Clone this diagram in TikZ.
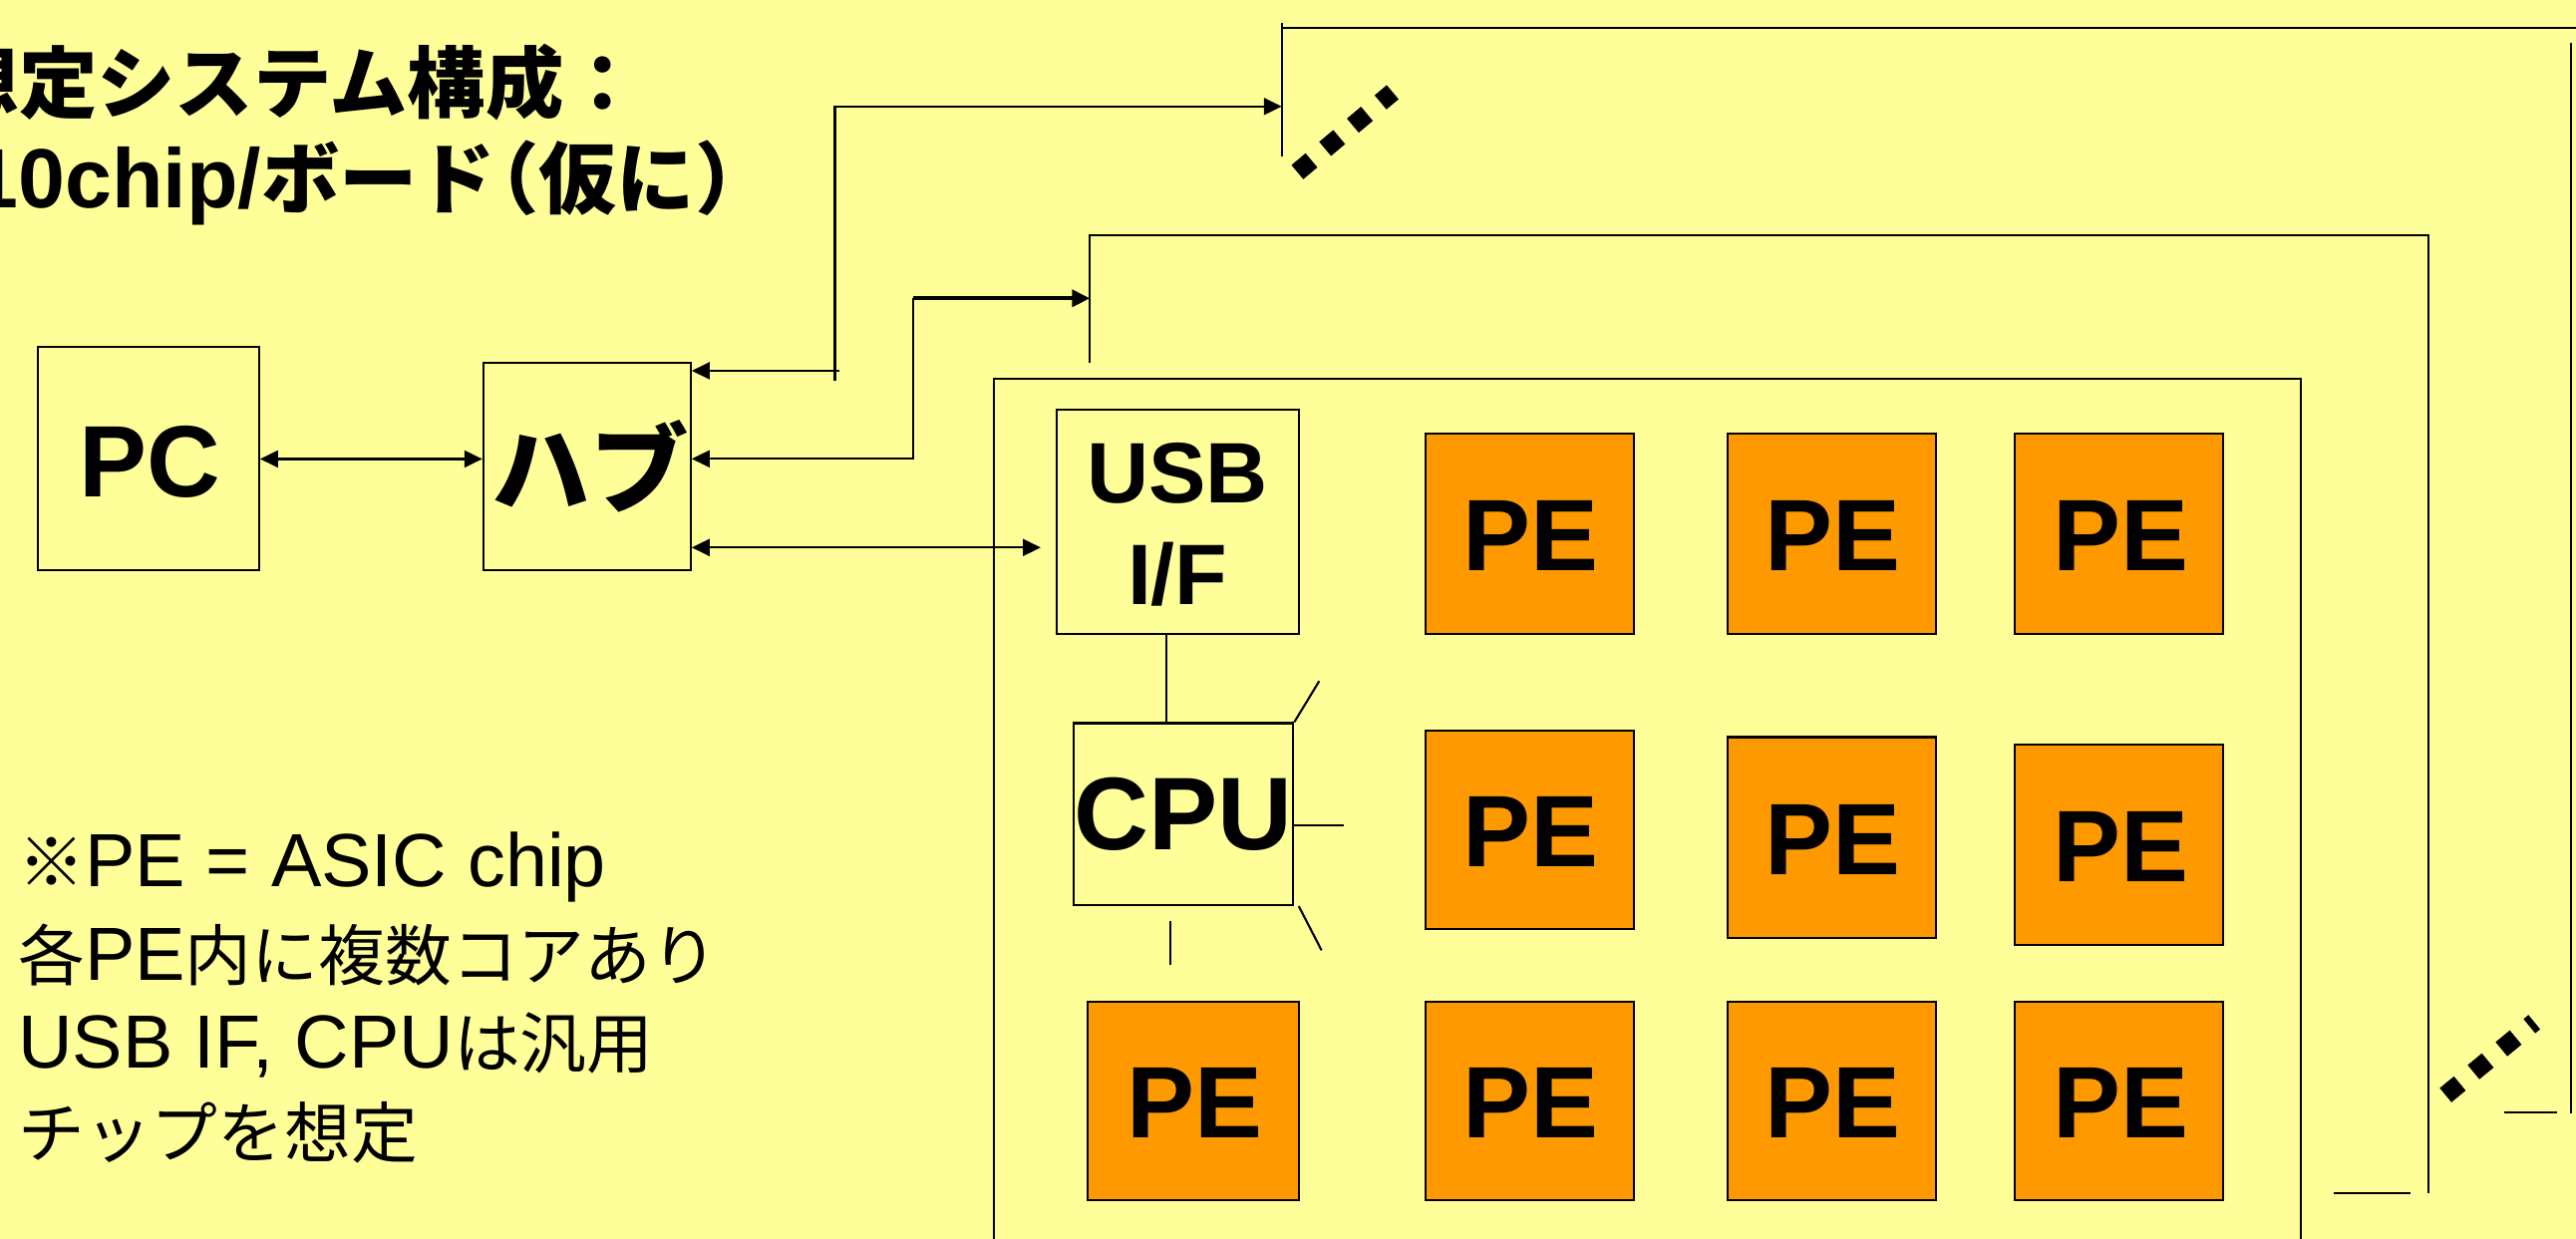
\documentclass[tikz,border=0pt]{standalone}
\usepackage{fontspec}
\setmainfont{Liberation Sans}
\newfontfamily\jp{Noto Sans CJK JP}
\usetikzlibrary{arrows.meta,fit,calc}
\definecolor{bg}{RGB}{255,255,153}
\definecolor{peor}{RGB}{255,153,0}
\newcommand\Jn[1]{{\jp\fontsize{19}{19}\selectfont #1}}
\begin{document}
\begin{tikzpicture}[x=0.01648cm,y=-0.01648cm,
  line width=0.6pt,
  box/.style={draw=black, inner sep=0pt, fill=bg, line width=0.6pt},
  pebox/.style={box, fill=peor},
  lbl/.style={inner sep=0pt, font=\bfseries\fontsize{29}{30}\selectfont},
  arr/.style={-{Triangle[length=0.18cm,width=0.17cm]}},
  darr/.style={{Triangle[length=0.18cm,width=0.17cm]}-{Triangle[length=0.18cm,width=0.17cm]}},
  dots/.style={line width=0.185cm, dash pattern=on 0.185cm off 0.178cm},
  note/.style={anchor=base west, inner sep=0pt, font=\fontsize{21.5}{21.5}\selectfont}]
\useasboundingbox (0,0) rectangle (1568,754);
\clip (0,0) rectangle (1568,754);
\fill[bg] (0,0) rectangle (1568,754);

% title
\node[anchor=base west, inner sep=0pt, font=\jp\bfseries\fontsize{22.3}{22.3}\selectfont] (t1) at (-36.6,68.5) {想定システム構成：};
\node[anchor=base west, inner sep=0pt] (t2) at (-18,126.5) {{\fontsize{24}{24}\selectfont\bfseries 10chip/}{\jp\bfseries\fontsize{22.3}{22.3}\selectfont ボード\hspace{-0.45em}（仮に）}};

% frames of further boards
\coordinate (f1) at (780.2,64.8);
\coordinate (f2) at (663.4,181.6);
\draw (780.2,13.8) -- (780.2,95);
\draw (780.2,16.8) -- (1580,16.8);
\draw (1564.7,26.3) -- (1564.7,677.6);
\draw (1524.1,677.3) -- (1556.4,677.3);
\draw (663.4,221.1) -- (663.4,143.2) -- (1478,143.2) -- (1478,726.5);
\draw (1420.3,726.1) -- (1467.1,726.1);
\draw (604.8,770) -- (604.8,230.6) -- (1400.5,230.6) -- (1400.5,770);

% ellipsis marks
\draw[dots] (789.7,104.8) -- (847.7,56.1);
\draw[dots] (1488.6,666.7) -- (1542.6,622.2);

% boxes
\node[box, fit={(22.8,211)(157.7,347)}] (pc) {};
\node[box, fit={(294.2,220.7)(420.4,347)}] (hub) {};
\node[box, fit={(643.2,249.2)(790.4,386.1)}] (usb) {};
\node[box, fit={(653.4,440.2)(787.2,551)}] (cpu) {};
\node[pebox, fit={(867.5,263.9)(994.3,386.1)}] (pe11) {};
\node[pebox, fit={(1051.4,263.9)(1178.2,386.1)}] (pe12) {};
\node[pebox, fit={(1226.5,263.9)(1353.2,386.1)}] (pe13) {};
\node[pebox, fit={(867.5,444.7)(994.3,565.7)}] (pe21) {};
\node[pebox, fit={(1051.4,448.7)(1178.2,571.2)}] (pe22) {};
\node[pebox, fit={(1226.5,453.5)(1353.2,575.4)}] (pe23) {};
\node[pebox, fit={(661.8,610)(790.4,730.5)}] (pe30) {};
\node[pebox, fit={(867.5,610)(994.3,730.5)}] (pe31) {};
\node[pebox, fit={(1051.4,610)(1178.2,730.5)}] (pe32) {};
\node[pebox, fit={(1226.5,610)(1353.2,730.5)}] (pe33) {};

% labels
\node[lbl] (pcl) at ($(pc.center)+(1,2)$) {PC};
\node[lbl, font=\jp\bfseries\fontsize{28}{28}\selectfont] (hubl) at ($(hub.center)+(2,0)$) {ハブ};
\node[lbl, align=center, font=\bfseries\fontsize{24.5}{29}\selectfont] (usbl) at ($(usb.center)+(0,1.5)$) {USB\\I/F};
\node[lbl, font=\bfseries\fontsize{29.5}{30}\selectfont] (cpul) at (cpu.center) {CPU};
\foreach \p in {pe11,pe12,pe13,pe21,pe22,pe23,pe30,pe31,pe32,pe33}
  \node[lbl] (\p l) at ($(\p.center)+(1,1)$) {PE};

% connectors
\coordinate (y0) at (0,279.4);
\draw[darr] (pc.east |- y0) -- (hub.west |- y0);

\coordinate (a1) at (511,225.7);
\coordinate (v1) at (508.2,231.5);
\coordinate (v1t) at (508.2,64.8);
\draw[arr] (a1) -- (hub.east |- a1);
\draw[arr] (v1) -- (v1t) -- (f1);

\coordinate (a2) at (555.8,279.3);
\coordinate (v2t) at (555.8,181.6);
\draw[arr] (v2t) -- (a2) -- (hub.east |- a2);
\draw[arr, line width=1.1pt] (v2t) -- (f2);

\coordinate (a3) at (633.5,333.3);
\draw[darr] (hub.east |- a3) -- (a3);

\coordinate (ux) at (710,0);
\draw (usb.south -| ux) -- (cpu.north -| ux);

\coordinate (s1) at (803,414.6);
\coordinate (s2) at (817.8,502.2);
\coordinate (s3) at (804.4,578.5);
\coordinate (s4a) at (712.4,560.7);
\coordinate (s4b) at (712.4,587.2);
\draw (cpu.north east) -- (s1);
\draw (cpu.east |- s2) -- (s2);
\draw ($(cpu.south east)+(2.7,0)$) -- (s3);
\draw (s4a) -- (s4b);

% note
\node[note] (n1) at (10.5,540) {\Jn{※}PE = ASIC chip};
\node[note] (n2) at (10.5,596.5) {\Jn{各}PE\Jn{内に複数コアあり}};
\node[note] (n3) at (10.5,650.3) {USB IF, CPU\Jn{は汎用}};
\node[note] (n4) at (10.5,704.5) {\Jn{チップを想定}};
\end{tikzpicture}
\end{document}
